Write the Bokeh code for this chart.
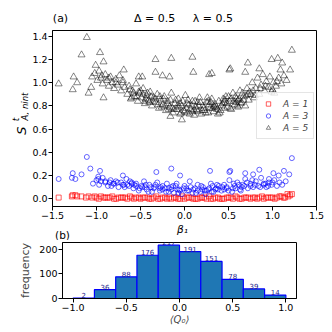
from bokeh.plotting import figure
from bokeh.layouts import column, row
from bokeh.models import (Range1d, FixedTicker, CustomJSTickFormatter, Legend,
                          LegendItem, ColumnDataSource)
from bokeh.core.properties import value
from bokeh.embed import file_html
from bokeh.resources import INLINE
import math

# ---------------- data: panel (a) ----------------
# A = 5 (grey triangles)
a5_out_x = [-1.43,-1.27,-1.26,-1.22,-1.17,-1.11,-1.09,-1.06,-1.01,-0.96,-0.92,-0.92,-0.69,-0.52,-0.48,-0.33,-0.33,-0.25,-0.17,-0.15,0.09,0.10,0.28,0.31,0.51,0.52,0.72,0.69,0.85,0.99,1.06,1.11,1.22,1.20,1.09,-0.03,-0.16,0.38,1.02,0.61]
a5_out_y = [0.99,0.94,1.05,1.00,1.24,1.39,0.91,0.96,1.15,1.26,1.18,0.87,1.11,1.05,1.05,1.20,1.09,1.06,1.05,1.21,1.22,1.09,1.07,1.08,1.11,1.12,1.17,1.09,1.12,1.20,1.21,1.17,1.28,1.11,1.11,0.68,0.71,0.73,0.91,0.85]
a5_left_x = [-1.05,-1.02,-0.99,-0.97,-0.95,-0.93,-0.90,-0.88,-0.86,-0.84,-0.82,-0.80,-0.78,-0.76,-0.74,-0.72,-0.70,-0.68]
a5_left_y = [1.05,1.08,1.02,1.10,1.04,0.99,1.07,1.02,0.97,1.05,1.00,0.95,1.03,0.98,1.06,0.93,1.00,0.96]
a5_midl_x = [-0.65,-0.63,-0.61,-0.59,-0.57,-0.55,-0.53,-0.51,-0.49,-0.47,-0.45,-0.43,-0.41,-0.39,-0.37,-0.35,-0.33,-0.31,-0.29,-0.27]
a5_midl_y = [0.90,0.97,0.86,0.93,0.88,0.99,0.84,0.91,0.87,0.95,0.82,0.89,0.85,0.92,0.80,0.87,0.83,0.90,0.78,0.85]
a5_cen_x = [-0.25,-0.23,-0.21,-0.19,-0.17,-0.15,-0.13,-0.11,-0.09,-0.07,-0.05,-0.03,-0.01,0.01,0.03,0.05,0.07,0.09,0.11,0.13,0.15,0.17,0.19,0.21,0.23,0.25,0.27,0.29,0.31,0.33,0.35,0.37,0.39]
a5_cen_y = [0.81,0.88,0.76,0.84,0.79,0.91,0.74,0.82,0.77,0.86,0.73,0.80,0.76,0.89,0.74,0.81,0.77,0.84,0.72,0.79,0.75,0.87,0.73,0.80,0.76,0.83,0.74,0.78,0.86,0.75,0.81,0.77,0.84]
a5_right_x = [0.41,0.43,0.45,0.47,0.49,0.51,0.53,0.55,0.57,0.59,0.61,0.63,0.65,0.67,0.69,0.71,0.73]
a5_right_y = [0.76,0.82,0.78,0.88,0.79,0.84,0.77,0.91,0.81,0.86,0.79,0.93,0.83,0.88,0.80,0.95,0.85]
a5_far_x = [0.75,0.77,0.79,0.81,0.83,0.85,0.87,0.89,0.91,0.93,0.95,0.97,0.99,1.01,1.04,1.07,1.10,1.13,1.16]
a5_far_y = [0.90,1.00,0.87,0.95,1.04,0.90,0.98,1.07,0.93,1.01,0.96,1.05,0.92,1.00,0.97,1.04,0.99,1.06,1.02]
a5_core_x = [-0.58,-0.44,-0.36,-0.22,-0.14,-0.06,0.02,0.08,0.14,0.22,0.28,0.34,0.42,0.48,0.56,0.62,0.70,0.78,-0.28,-0.02,0.18,0.46,-0.50,0.66]
a5_core_y = [0.91,0.86,0.84,0.80,0.78,0.79,0.78,0.80,0.77,0.78,0.81,0.79,0.80,0.82,0.84,0.86,0.89,0.93,0.88,0.84,0.83,0.85,0.93,0.91]
a5_core2_x = [-0.62,-0.54,-0.47,-0.40,-0.33,-0.26,-0.19,-0.12,-0.05,0.00,0.04,0.11,0.16,0.24,0.30,0.36,0.44,0.52,0.58,0.64,0.72,-0.42,-0.16,0.06,0.26,0.50,0.60,-0.08,0.12,0.32]
a5_core2_y = [0.94,0.88,0.90,0.83,0.86,0.79,0.82,0.77,0.82,0.75,0.85,0.76,0.80,0.74,0.83,0.79,0.86,0.78,0.88,0.82,0.90,0.91,0.85,0.73,0.87,0.88,0.80,0.80,0.84,0.78]
a5_core3_x = [-0.60,-0.52,-0.45,-0.38,-0.30,-0.24,-0.18,-0.10,-0.04,0.03,0.09,0.15,0.20,0.27,0.33,0.40,0.45,0.53,0.59,0.67,0.74,0.80,0.86,0.92,-0.70,-0.78,-0.86,-0.94,1.00,1.05]
a5_core3_y = [0.87,0.92,0.84,0.88,0.81,0.86,0.77,0.85,0.74,0.82,0.75,0.83,0.76,0.84,0.80,0.74,0.83,0.86,0.83,0.85,0.92,0.89,0.95,0.97,1.02,1.00,1.04,1.06,0.94,1.01]

# A = 3 (blue circles)
a3_out_x = [-1.43,-1.27,-1.28,-1.24,-1.17,-1.11,-1.07,-0.96,-0.98,-0.32,-0.15,0.29,0.51,0.52,0.69,0.78,1.01,1.07,1.13,1.19,1.22,0.85,0.96,1.15,-0.70,-0.05]
a3_out_y = [0.17,0.22,0.18,0.17,0.21,0.36,0.26,0.24,0.19,0.23,0.26,0.24,0.23,0.24,0.22,0.21,0.22,0.20,0.24,0.21,0.35,0.25,0.17,0.15,0.20,0.20]
a3_s1_x = [-1.04,-1.00,-0.97,-0.93,-0.90,-0.87,-0.84,-0.81,-0.78,-0.75,-0.72,-0.69,-0.66,-0.63,-0.60]
a3_s1_y = [0.13,0.16,0.12,0.18,0.14,0.11,0.16,0.13,0.15,0.10,0.14,0.12,0.17,0.11,0.13]
a3_s2_x = [-0.58,-0.55,-0.52,-0.49,-0.46,-0.43,-0.40,-0.37,-0.34,-0.31,-0.28,-0.25,-0.22,-0.20]
a3_s2_y = [0.09,0.13,0.07,0.11,0.15,0.08,0.12,0.06,0.10,0.14,0.07,0.11,0.09,0.13]
a3_s3_x = [-0.18,-0.15,-0.12,-0.09,-0.06,-0.03,0.00,0.03,0.06,0.09,0.12,0.15,0.18,0.21,0.24,0.27,0.30,0.33,0.36,0.39]
a3_s3_y = [0.06,0.10,0.05,0.13,0.08,0.04,0.11,0.07,0.15,0.05,0.09,0.12,0.06,0.10,0.04,0.08,0.13,0.06,0.09,0.11]
a3_s4_x = [0.42,0.45,0.48,0.51,0.54,0.57,0.60,0.63,0.66,0.69,0.72,0.75,0.78]
a3_s4_y = [0.07,0.12,0.09,0.16,0.06,0.11,0.14,0.08,0.12,0.17,0.09,0.13,0.10]
a3_s5_x = [0.81,0.84,0.87,0.90,0.93,0.96,0.99,1.02,1.05,1.08,1.11]
a3_s5_y = [0.15,0.11,0.18,0.13,0.10,0.14,0.12,0.16,0.11,0.14,0.12]
a3_core_x = [-0.45,-0.35,-0.25,-0.15,-0.05,0.05,0.15,0.25,0.35,0.45,0.55,0.65,-0.65,-0.85,0.75,0.90]
a3_core_y = [0.10,0.09,0.08,0.08,0.07,0.07,0.07,0.07,0.08,0.08,0.09,0.10,0.12,0.14,0.11,0.12]
a3_core2_x = [-0.95,-0.80,-0.70,-0.55,-0.48,-0.38,-0.28,-0.18,-0.08,0.02,0.10,0.20,0.28,0.38,0.48,0.58,0.68,0.80,0.92,1.00,-0.60,-0.10,0.32,0.62]
a3_core2_y = [0.15,0.13,0.12,0.11,0.10,0.10,0.09,0.09,0.08,0.09,0.08,0.08,0.09,0.08,0.10,0.09,0.11,0.12,0.13,0.14,0.14,0.11,0.11,0.12]
a3_core3_x = [-0.98,-0.90,-0.83,-0.76,-0.68,-0.62,-0.57,-0.51,-0.44,-0.41,-0.33,-0.27,-0.21,-0.13,-0.07,-0.01,0.07,0.13,0.19,0.23,0.31,0.37,0.43,0.50,0.56,0.64,0.71,0.77,0.86,0.95]
a3_core3_y = [0.17,0.15,0.11,0.14,0.10,0.15,0.12,0.09,0.12,0.06,0.12,0.10,0.06,0.11,0.05,0.09,0.10,0.05,0.11,0.07,0.06,0.12,0.10,0.07,0.13,0.07,0.14,0.16,0.10,0.11]

# A = 1 (red squares)
a1_left_x = [-1.43,-1.28,-1.27,-1.24,-1.22,-1.17,-1.12,-1.09]
a1_left_y = [0.01,0.02,0.03,0.03,0.02,0.02,0.01,0.02]
a1_band_x = [-1.05,-1.00,-0.95,-0.90,-0.85,-0.80,-0.75,-0.70,-0.65,-0.60,-0.55,-0.50,-0.45,-0.40,-0.35,-0.30,-0.25,-0.20,-0.15,-0.10,-0.05,0.00,0.05,0.10,0.15,0.20,0.25,0.30,0.35,0.40,0.45,0.50,0.55,0.60,0.65,0.70,0.75,0.80,0.85,0.90,0.95,1.00,1.05,1.10]
a1_band_y = [0.01,0.01,0.02,0.01,0.01,0.00,0.01,0.01,0.00,0.01,0.01,0.00,0.01,0.00,0.01,0.00,0.01,0.00,0.00,0.01,0.00,0.00,0.01,0.00,0.00,0.01,0.00,0.00,0.01,0.00,0.00,0.01,0.00,0.01,0.00,0.01,0.00,0.01,0.01,0.00,0.01,0.01,0.01,0.02]
a1_right_x = [1.14,1.17,1.20,1.22,1.18]
a1_right_y = [0.01,0.04,0.03,0.04,0.02]
a1_fill_x = [-1.02,-0.92,-0.82,-0.72,-0.62,-0.52,-0.42,-0.32,-0.22,-0.12,-0.02,0.08,0.18,0.28,0.38,0.48,0.58,0.68,0.78,0.88,0.98,1.08]
a1_fill_y = [0.02,0.01,0.02,0.01,0.02,0.01,0.01,0.02,0.01,0.01,0.02,0.01,0.01,0.02,0.01,0.01,0.02,0.01,0.01,0.02,0.01,0.02]
a1_fill2_x = [-0.975,-0.875,-0.775,-0.675,-0.575,-0.475,-0.375,-0.275,-0.175,-0.075,0.025,0.125,0.225,0.325,0.425,0.525,0.625,0.725,0.825,0.925,1.025,1.125]
a1_fill2_y = [0.00,0.01,0.00,0.01,0.00,0.01,0.00,0.00,0.01,0.00,0.01,0.00,0.01,0.00,0.00,0.01,0.00,0.01,0.00,0.01,0.00,0.01]

# ---------------- data: panel (b) ----------------
bin_edges = [-1.0,-0.8,-0.6,-0.4,-0.2,0.0,0.2,0.4,0.6,0.8,1.0]
bin_counts = [2,36,88,176,217,191,151,78,39,14]

x_ticks_a = [-1.5,-1.0,-0.5,0.0,0.5,1.0,1.5]
y_ticks_a = [0.0,0.2,0.4,0.6,0.8,1.0,1.2,1.4]
x_ticks_b = [-1.0,-0.5,0.0,0.5,1.0]
y_ticks_b = [0,100,200]


def pairs(*groups):
    xs, ys = [], []
    for gx, gy in groups:
        for a, b in zip(gx, gy):
            xs.append(a)
            ys.append(b)
    return xs, ys

a5x, a5y = pairs((a5_out_x, a5_out_y), (a5_left_x, a5_left_y), (a5_midl_x, a5_midl_y),
                 (a5_cen_x, a5_cen_y), (a5_right_x, a5_right_y), (a5_far_x, a5_far_y),
                 (a5_core_x, a5_core_y), (a5_core2_x, a5_core2_y), (a5_core3_x, a5_core3_y))
a3x, a3y = pairs((a3_out_x, a3_out_y), (a3_s1_x, a3_s1_y), (a3_s2_x, a3_s2_y),
                 (a3_s3_x, a3_s3_y), (a3_s4_x, a3_s4_y), (a3_s5_x, a3_s5_y),
                 (a3_core_x, a3_core_y), (a3_core2_x, a3_core2_y), (a3_core3_x, a3_core3_y))
a1x, a1y = pairs((a1_left_x, a1_left_y), (a1_band_x, a1_band_y), (a1_right_x, a1_right_y),
                 (a1_fill_x, a1_fill_y), (a1_fill2_x, a1_fill2_y))

FONT = "DejaVu Sans"
W = 332
LW = 29          # width of the strip holding panel (a)'s y label
TOP_H = 28
P1_H = 194
MID_H = 18
P2_H = W - TOP_H - P1_H - MID_H   # 92


def style_axes(p, xt, yt, xdig, ydig):
    p.xgrid.visible = False
    p.ygrid.visible = False
    p.outline_line_color = "black"
    p.outline_line_width = 1
    p.outline_line_alpha = 1
    for ax in (p.xaxis[0], p.yaxis[0]):
        ax.axis_line_color = "black"
        ax.major_tick_line_color = "black"
        ax.major_tick_out = 4
        ax.major_tick_in = 0
        ax.minor_tick_out = 0
        ax.minor_tick_in = 0
        ax.major_label_text_font = FONT
        ax.major_label_text_font_size = "9.5px"
        ax.major_label_text_color = "black"
        ax.major_label_standoff = 1
    p.xaxis[0].ticker = FixedTicker(ticks=xt)
    p.yaxis[0].ticker = FixedTicker(ticks=yt)
    p.xaxis[0].formatter = CustomJSTickFormatter(
        code="return tick.toFixed(%d).replace('-', '\\u2212');" % xdig)
    p.yaxis[0].formatter = CustomJSTickFormatter(
        code="return tick.toFixed(%d).replace('-', '\\u2212');" % ydig)


def canvas(w, h):
    c = figure(width=w, height=h, x_range=Range1d(0, w), y_range=Range1d(0, h),
               x_axis_location=None, y_axis_location=None, output_backend="svg",
               toolbar_location=None, min_border=0, min_border_left=0,
               min_border_right=0, min_border_top=0, min_border_bottom=0)
    c.xgrid.visible = False
    c.ygrid.visible = False
    c.outline_line_color = None
    return c


def txt(c, x, y, s, size, angle=0.0, style="normal", color="black"):
    c.text(x=[x], y=[y], text=[s], text_font=value(FONT), text_font_size=size,
           text_font_style=style, text_color=color, text_align="center",
           text_baseline="middle", angle=angle)


NB = "\u00a0"

# ---------------- top strip: panel label and title ----------------
top = canvas(W, TOP_H)
txt(top, 60, 10, "(a)", "11px")
txt(top, 183, 10, "\u0394" + NB + "=" + NB + "0.5" + NB * 5 + "\u03bb" + NB + "=" + NB + "0.5", "11px")

# ---------------- left strip: y label of panel (a) ----------------
left1 = canvas(LW, P1_H)
txt(left1, 21, P1_H - 102, "S", "13px", angle=math.pi / 2, style="italic")
txt(left1, 15, P1_H - 91, "t", "9px", angle=math.pi / 2, style="italic")
txt(left1, 24, P1_H - 78, "A, nint", "8.5px", angle=math.pi / 2, style="italic")

# ---------------- panel (a) ----------------
p1 = figure(width=W - LW, height=P1_H, x_range=Range1d(-1.5, 1.5), y_range=Range1d(-0.067, 1.45),
            output_backend="svg", toolbar_location=None,
            min_border_left=20, min_border_right=16, min_border_top=2, min_border_bottom=16)
style_axes(p1, x_ticks_a, y_ticks_a, 1, 1)

r1 = p1.scatter(a1x, a1y, marker="square", size=5, fill_color=None,
                line_color="red", line_alpha=0.8, line_width=0.8)
r3 = p1.scatter(a3x, a3y, marker="circle", size=5, fill_color=None,
                line_color="blue", line_alpha=0.75, line_width=0.8)
r5 = p1.scatter(a5x, a5y, marker="triangle", size=7, fill_color=None,
                line_color="black", line_alpha=0.6, line_width=0.8)

legend = Legend(items=[LegendItem(label="A = 1", renderers=[r1]),
                       LegendItem(label="A = 3", renderers=[r3]),
                       LegendItem(label="A = 5", renderers=[r5])],
                location=(204, 67), padding=5, spacing=1, margin=0,
                glyph_width=12, glyph_height=11, label_height=11, label_width=20,
                label_standoff=9,
                label_text_font=FONT, label_text_font_size="9px",
                label_text_font_style="italic",
                border_line_color="#cccccc", border_line_width=1,
                background_fill_color="white", background_fill_alpha=0.8)
p1.add_layout(legend)

# ---------------- middle strip: x label of (a), panel label (b) ----------------
mid = canvas(W, MID_H)
txt(mid, 182, MID_H - 6, "\u03b2\u2081", "10.5px", style="italic")
txt(mid, 62, MID_H - 12, "(b)", "10.5px")

# ---------------- panel (b) ----------------
p2 = figure(width=W, height=P2_H, x_range=Range1d(-1.1, 1.1), y_range=Range1d(0, 227.85),
            output_backend="svg", toolbar_location=None,
            min_border_left=62, min_border_right=36, min_border_top=2, min_border_bottom=P2_H - 58)
style_axes(p2, x_ticks_b, y_ticks_b, 1, 0)
p2.yaxis[0].axis_label = "frequency"
p2.yaxis[0].axis_label_text_font = FONT
p2.yaxis[0].axis_label_text_font_size = "11px"
p2.yaxis[0].axis_label_text_font_style = "normal"
p2.yaxis[0].axis_label_standoff = 4
p2.xaxis[0].axis_label = "\u27e8Q\u2080\u27e9"
p2.xaxis[0].axis_label_text_font = FONT
p2.xaxis[0].axis_label_text_font_size = "10px"
p2.xaxis[0].axis_label_text_font_style = "italic"
p2.xaxis[0].axis_label_standoff = 0

p2.quad(left=bin_edges[:-1], right=bin_edges[1:], bottom=0, top=bin_counts,
        fill_color="#1f77b4", line_color="blue", line_width=1.2)
src = ColumnDataSource(dict(x=[(a + b) / 2 for a, b in zip(bin_edges[:-1], bin_edges[1:])],
                            y=bin_counts, t=[str(c) for c in bin_counts]))
p2.text(x="x", y="y", text="t", source=src, text_font=value(FONT),
        text_font_size="7px", text_color="#22228a", text_align="center",
        text_baseline="bottom")

# each strip sits in its own row/column so that Bokeh does not align its frame with a neighbour
layout = column(row(top), row(column(left1), p1), row(mid), row(p2))
open("out.html", "w").write(file_html(layout, INLINE))
